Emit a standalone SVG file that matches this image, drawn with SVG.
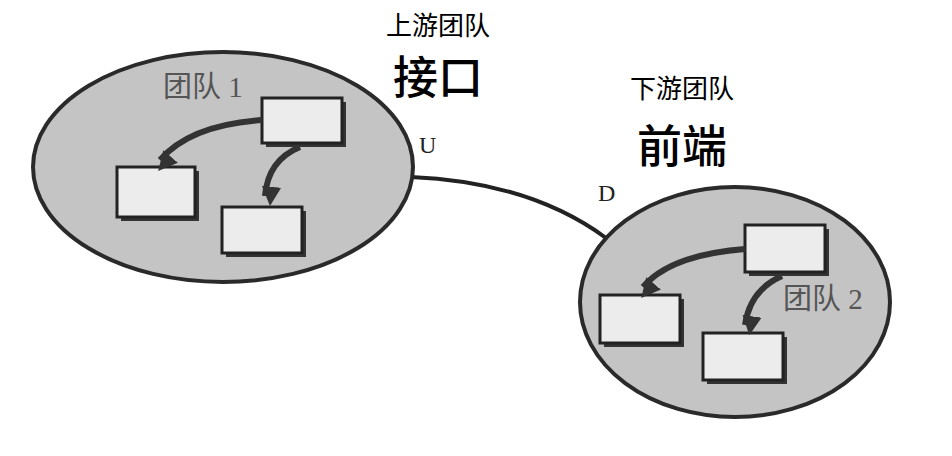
<svg xmlns="http://www.w3.org/2000/svg" width="952" height="456" viewBox="0 0 952 456">
<defs>
<style>
.team{fill:#c4c4c4;stroke:#2a2a2a;stroke-width:4}
.box{fill:#ececec;stroke:#222;stroke-width:3}
.sh{fill:#333}
.arr{fill:none;stroke:#333;stroke-width:6}
.lbl{font-family:"Liberation Serif","Noto Sans CJK SC",serif;font-size:29px;fill:#555}
.ud{font-family:"Liberation Serif",serif;font-size:24px;fill:#222}
.t1{font-family:"Noto Sans CJK SC",sans-serif;font-size:26px;fill:#000;text-anchor:middle}
.t2{font-family:"Noto Sans CJK SC",sans-serif;font-size:45px;font-weight:500;fill:#000;text-anchor:middle}
</style>
<marker id="ah" viewBox="0 0 10 10" refX="5" refY="8" markerWidth="3.2" markerHeight="3.2" orient="auto-start-reverse" markerUnits="strokeWidth">
<path d="M0,0 L10,5 L0,10 Z" fill="#333"/>
</marker>
</defs>
<g id="connectors">
<path d="M411,177 Q530,182 606,238" fill="none" stroke="#222" stroke-width="4"/>
</g>
<g id="team1">
<ellipse class="team" cx="223" cy="167" rx="190" ry="115"/>
<text class="lbl" x="163" y="97">团队 1</text>
<rect class="sh" x="266" y="102" width="80" height="45"/><rect class="box" x="262" y="98" width="80" height="45"/>
<rect class="sh" x="121" y="171" width="78" height="50"/><rect class="box" x="117" y="167" width="78" height="50"/>
<rect class="sh" x="226" y="211" width="80" height="46"/><rect class="box" x="222" y="207" width="80" height="46"/>
<path class="arr" d="M262,120 Q190,125 160,160" marker-end="url(#ah)"/>
<path class="arr" d="M300,147 Q268,160 265,196" marker-end="url(#ah)"/>
</g>
<g id="team2">
<ellipse class="team" cx="735" cy="302" rx="155" ry="115"/>
<text class="lbl" x="783" y="309">团队 2</text>
<rect class="sh" x="749" y="229" width="80" height="47"/><rect class="box" x="745" y="225" width="80" height="47"/>
<rect class="sh" x="604" y="299" width="80" height="48"/><rect class="box" x="600" y="295" width="80" height="48"/>
<rect class="sh" x="707" y="337" width="80" height="47"/><rect class="box" x="703" y="333" width="80" height="47"/>
<path class="arr" d="M745,249 Q670,255 643,287" marker-end="url(#ah)"/>
<path class="arr" d="M782,276 Q750,290 745,325" marker-end="url(#ah)"/>
</g>
<g id="labels">
<text class="ud" x="419" y="153">U</text>
<text class="ud" x="598" y="201">D</text>
<text class="t1" x="438" y="35">上游团队</text>
<text class="t2" x="438" y="94">接口</text>
<text class="t1" x="682" y="98">下游团队</text>
<text class="t2" x="682" y="163">前端</text>
</g>
</svg>
